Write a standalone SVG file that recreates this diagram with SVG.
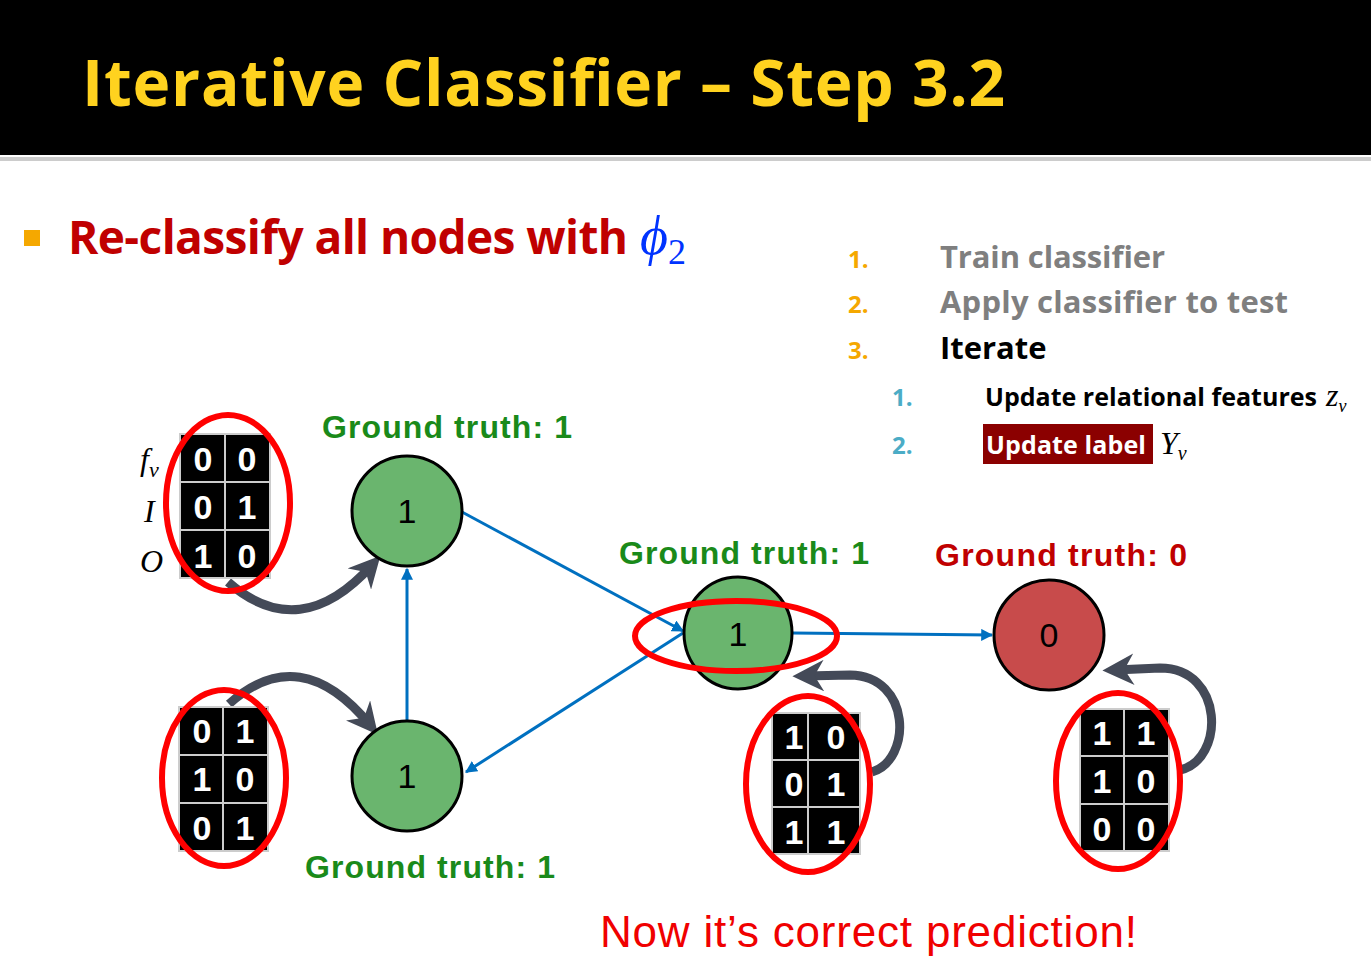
<svg xmlns="http://www.w3.org/2000/svg" width="1371" height="970" viewBox="0 0 1371 970">
<style>
.b{font-family:"Open Sans","Liberation Sans",sans-serif;font-weight:bold}
.gt{font-family:"Liberation Sans",sans-serif;font-weight:bold;font-size:32px;fill:#1a8a1a}
.node{stroke:#000;stroke-width:3}
.nl{font-family:"Liberation Sans",sans-serif;font-size:34px;text-anchor:middle}
.cell{fill:#000;stroke:#ccc;stroke-width:2}
.ct{font-family:"Liberation Sans",sans-serif;font-weight:bold;font-size:34px;fill:#fff;text-anchor:middle}
.red{fill:none;stroke:#f00;stroke-width:6}
.blue{stroke:#0070c0;stroke-width:3;fill:none;marker-end:url(#ab)}
.gray{stroke:#444a58;stroke-width:9;fill:none;marker-end:url(#ag)}
.m{font-family:"Liberation Serif",serif;font-style:italic;font-size:32px}
</style>
<defs>
<marker id="ab" viewBox="0 0 10 10" refX="9" refY="5" markerWidth="4" markerHeight="4" orient="auto"><path d="M0,0L10,5L0,10z" fill="#0070c0"/></marker>
<marker id="ag" viewBox="0 0 10 10" refX="6" refY="5" markerWidth="3.5" markerHeight="3.5" orient="auto"><path d="M0,0L10,5L0,10L3,5z" fill="#444a58"/></marker>
</defs>
<rect width="1371" height="970" fill="#fff"/>
<rect width="1371" height="155" fill="#000"/>
<rect y="157" width="1371" height="4" fill="#ccc"/>
<text x="82" y="106" class="b" font-size="64" fill="#ffd21f" textLength="923">Iterative Classifier – Step 3.2</text>
<rect x="24" y="230" width="16" height="16" fill="#f5a800"/>
<text x="68" y="254" class="b" font-size="46" fill="#c00000" textLength="560">Re-classify all nodes with</text>
<text x="640" y="254" font-family="Liberation Serif,serif" font-style="italic" font-size="54" fill="#0033ff">ϕ<tspan font-style="normal" font-size="36" dy="10">2</tspan></text>
<g font-family="Open Sans,Liberation Sans,sans-serif" font-weight="bold">
<text x="848" y="268" font-size="24" fill="#f5a800">1.</text>
<text x="848" y="313" font-size="24" fill="#f5a800">2.</text>
<text x="848" y="359" font-size="24" fill="#f5a800">3.</text>
<text x="940" y="268" font-size="31" fill="#7f7f7f" textLength="225">Train classifier</text>
<text x="940" y="313" font-size="31" fill="#7f7f7f" textLength="348">Apply classifier to test</text>
<text x="940" y="359" font-size="31" fill="#000">Iterate</text>
<text x="892" y="406" font-size="24" fill="#4bacc6">1.</text>
<text x="892" y="454" font-size="24" fill="#4bacc6">2.</text>
<text x="985" y="406" font-size="25" fill="#000" textLength="332">Update relational features</text>
<rect x="983" y="424" width="170" height="40" fill="#8b0000"/>
<text x="986" y="454" font-size="25" fill="#fff" textLength="160">Update label</text>
</g>
<text x="1326" y="406" class="m" font-size="26">z<tspan font-size="18" dy="6">v</tspan></text>
<text x="1160" y="454" class="m" font-size="28">Y<tspan font-size="20" dy="6">v</tspan></text>
<text x="140" y="470" class="m">f<tspan font-size="22" dy="7">v</tspan></text>
<text x="144" y="522" class="m">I</text>
<text x="140" y="572" class="m">O</text>
<g id="connectors">
<line class="blue" x1="462" y1="512" x2="683" y2="631"/>
<line class="blue" x1="683" y1="633" x2="466" y2="772"/>
<line class="blue" x1="407" y1="720" x2="407" y2="569"/>
<line class="blue" x1="792" y1="633" x2="992" y2="635"/>
<path class="gray" d="M228,582 Q300,645 372,565"/>
<path class="gray" d="M229,704 Q300,640 370,725"/>
<path class="gray" d="M872,772 C912,760 912,676 850,675 L805,676"/>
<path class="gray" d="M1180,770 C1225,760 1225,668 1160,668 L1115,670"/>
</g>
<g id="nodeA"><circle class="node" cx="407" cy="511" r="55" fill="#6ab56e"/><text class="nl" x="407" y="523">1</text></g>
<g id="nodeB"><circle class="node" cx="407" cy="776" r="55" fill="#6ab56e"/><text class="nl" x="407" y="788">1</text></g>
<g id="nodeC"><ellipse class="node" cx="738" cy="633" rx="54" ry="56" fill="#6ab56e"/><text class="nl" x="738" y="646">1</text></g>
<g id="nodeD"><circle class="node" cx="1049" cy="635" r="55" fill="#c84b4b"/><text class="nl" x="1049" y="647">0</text></g>
<g id="table1">
<rect class="cell" x="180" y="434" width="45" height="48"/><rect class="cell" x="225" y="434" width="45" height="48"/>
<rect class="cell" x="180" y="482" width="45" height="48"/><rect class="cell" x="225" y="482" width="45" height="48"/>
<rect class="cell" x="180" y="530" width="45" height="48"/><rect class="cell" x="225" y="530" width="45" height="48"/>
<text class="ct" x="203" y="471">0</text><text class="ct" x="247" y="471">0</text>
<text class="ct" x="203" y="519">0</text><text class="ct" x="247" y="519">1</text>
<text class="ct" x="203" y="568">1</text><text class="ct" x="247" y="568">0</text>
</g>
<g id="table2">
<rect class="cell" x="179" y="707" width="44" height="48"/><rect class="cell" x="223" y="707" width="45" height="48"/>
<rect class="cell" x="179" y="755" width="44" height="48"/><rect class="cell" x="223" y="755" width="45" height="48"/>
<rect class="cell" x="179" y="803" width="44" height="48"/><rect class="cell" x="223" y="803" width="45" height="48"/>
<text class="ct" x="202" y="743">0</text><text class="ct" x="245" y="743">1</text>
<text class="ct" x="202" y="791">1</text><text class="ct" x="245" y="791">0</text>
<text class="ct" x="202" y="840">0</text><text class="ct" x="245" y="840">1</text>
</g>
<g id="table3">
<rect class="cell" x="772" y="713" width="36" height="47"/><rect class="cell" x="808" y="713" width="52" height="47"/>
<rect class="cell" x="772" y="760" width="36" height="47"/><rect class="cell" x="808" y="760" width="52" height="47"/>
<rect class="cell" x="772" y="807" width="36" height="47"/><rect class="cell" x="808" y="807" width="52" height="47"/>
<text class="ct" x="794" y="749">1</text><text class="ct" x="836" y="749">0</text>
<text class="ct" x="794" y="796">0</text><text class="ct" x="836" y="796">1</text>
<text class="ct" x="794" y="844">1</text><text class="ct" x="836" y="844">1</text>
</g>
<g id="table4">
<rect class="cell" x="1080" y="709" width="44" height="47"/><rect class="cell" x="1124" y="709" width="45" height="47"/>
<rect class="cell" x="1080" y="756" width="44" height="48"/><rect class="cell" x="1124" y="756" width="45" height="48"/>
<rect class="cell" x="1080" y="804" width="44" height="47"/><rect class="cell" x="1124" y="804" width="45" height="47"/>
<text class="ct" x="1102" y="745">1</text><text class="ct" x="1146" y="745">1</text>
<text class="ct" x="1102" y="793">1</text><text class="ct" x="1146" y="793">0</text>
<text class="ct" x="1102" y="841">0</text><text class="ct" x="1146" y="841">0</text>
</g>
<ellipse class="red" cx="228" cy="503" rx="62" ry="88"/>
<ellipse class="red" cx="224" cy="778" rx="62" ry="88"/>
<ellipse class="red" cx="808" cy="784" rx="62" ry="88"/>
<ellipse class="red" cx="1118" cy="781" rx="62" ry="88"/>
<ellipse class="red" cx="736" cy="636" rx="101" ry="35"/>
<text class="gt" x="322" y="438" textLength="250">Ground truth: 1</text>
<text class="gt" x="305" y="878" textLength="250">Ground truth: 1</text>
<text class="gt" x="619" y="564" textLength="250">Ground truth: 1</text>
<text class="gt" x="935" y="566" textLength="252" style="fill:#c00000">Ground truth: 0</text>
<text x="600" y="947" font-family="Liberation Sans,sans-serif" font-size="44" fill="#f00000" textLength="537">Now it’s correct prediction!</text>
</svg>
